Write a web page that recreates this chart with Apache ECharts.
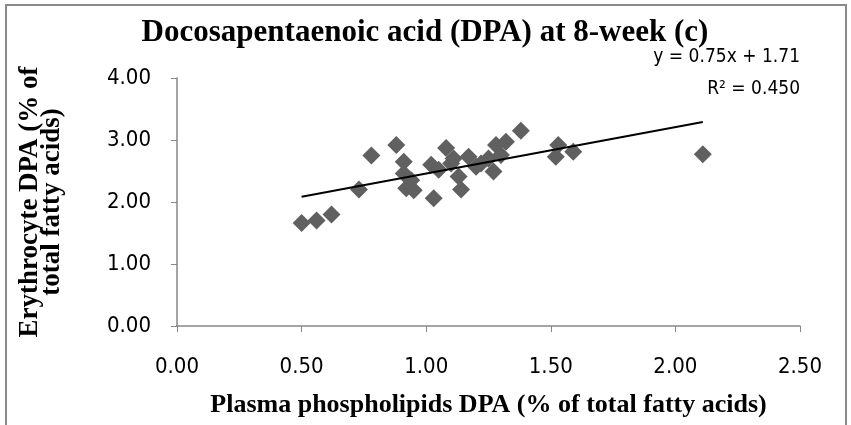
<!DOCTYPE html>
<html>
<head>
<meta charset="utf-8">
<script src="https://cdn.jsdelivr.net/npm/echarts@6/dist/echarts.min.js"></script>
<style>
  html, body { margin: 0; padding: 0; background: #fff; }
  #chart { width: 851px; height: 425px; }
</style>
</head>
<body>
<div id="chart"></div>
<script>
// plasma phospholipid DPA (x) vs erythrocyte DPA (y)
const plasmaDPA = [
  0.50, 0.56, 0.62, 0.73, 0.78, 0.88, 0.91, 0.91, 0.92, 0.94, 0.95,
  1.02, 1.03, 1.05, 1.08, 1.10, 1.11, 1.13, 1.14, 1.17, 1.20, 1.22,
  1.25, 1.27, 1.28, 1.30, 1.32, 1.38, 1.52, 1.53, 1.59, 2.11
]
const erythDPA = [
  1.66, 1.70, 1.80, 2.20, 2.75, 2.92, 2.65, 2.46, 2.22, 2.35, 2.19,
  2.60, 2.06, 2.52, 2.87, 2.62, 2.70, 2.41, 2.20, 2.73, 2.57, 2.62,
  2.70, 2.49, 2.92, 2.76, 2.97, 3.15, 2.73, 2.92, 2.81, 2.77
]
// linear trend line end points
const trendX = [0.50, 2.11]
const trendY = [2.085, 3.29]
const xTicks = [0, 0.5, 1, 1.5, 2, 2.5]
const yTicks = [0, 1, 2, 3, 4]

const chart = echarts.init(document.getElementById('chart'), null, { renderer: 'canvas' })

const points = plasmaDPA.map((x, i) => [x, erythDPA[i]])
const trend = trendX.map((x, i) => [x, trendY[i]])

const tickFont = '"Liberation Sans Narrow", "DejaVu Sans Condensed", sans-serif'
const serif = '"Liberation Serif", "DejaVu Serif", serif'

const option = {
  animation: false,
  backgroundColor: '#fff',
  grid: { left: 177, right: 51, top: 78, bottom: 99 },
  xAxis: {
    type: 'value',
    min: xTicks[0],
    max: xTicks[xTicks.length - 1],
    interval: 0.5,
    axisLine: { show: true, lineStyle: { color: '#868686', width: 1.5 } },
    axisTick: { show: true, length: 6, lineStyle: { color: '#868686' } },
    splitLine: { show: false },
    axisLabel: {
      margin: 30,
      color: '#000',
      fontFamily: tickFont,
      fontSize: 22,
      formatter: v => v.toFixed(2)
    },
    name: 'Plasma phospholipids DPA (% of total fatty acids)',
    nameLocation: 'middle',
    nameGap: 66,
    nameTextStyle: { fontFamily: serif, fontWeight: 'bold', fontSize: 26, color: '#000' }
  },
  yAxis: {
    type: 'value',
    min: yTicks[0],
    max: yTicks[yTicks.length - 1],
    interval: 1,
    axisLine: { show: true, lineStyle: { color: '#868686', width: 1.5 } },
    axisTick: { show: true, length: 6, lineStyle: { color: '#868686' } },
    splitLine: { show: false },
    axisLabel: {
      margin: 26,
      color: '#000',
      fontFamily: tickFont,
      fontSize: 22,
      formatter: v => v.toFixed(2)
    },
    name: 'Erythrocyte DPA (% of\ntotal fatty acids)',
    nameLocation: 'middle',
    nameGap: 114,
    nameRotate: 90,
    nameTextStyle: { fontFamily: serif, fontWeight: 'bold', fontSize: 27, color: '#000', lineHeight: 22 }
  },
  title: {
    text: 'Docosapentaenoic acid (DPA) at 8-week (c)',
    left: 420,
    top: 12,
    textAlign: 'center',
    textStyle: { fontFamily: serif, fontWeight: 'bold', fontSize: 31, color: '#000' }
  },
  graphic: [
    {
      type: 'rect',
      shape: { x: 6, y: 5, width: 840, height: 440 },
      style: { fill: 'none', stroke: '#8a8a8a', lineWidth: 2 },
      silent: true
    },
    {
      type: 'text',
      right: 51,
      top: 48,
      style: { text: 'y = 0.75x + 1.71', font: '19px ' + tickFont, fill: '#000' }
    },
    {
      type: 'text',
      right: 51,
      top: 80,
      style: { text: 'R² = 0.450', font: '19px ' + tickFont, fill: '#000' }
    }
  ],
  series: [
    {
      type: 'scatter',
      data: points,
      symbol: 'diamond',
      symbolSize: [18, 18],
      itemStyle: { color: '#606060', opacity: 1 },
      z: 2
    },
    {
      type: 'line',
      data: trend,
      showSymbol: false,
      lineStyle: { color: '#000', width: 2 },
      z: 3
    }
  ]
}
chart.setOption(option)
</script>
</body>
</html>
